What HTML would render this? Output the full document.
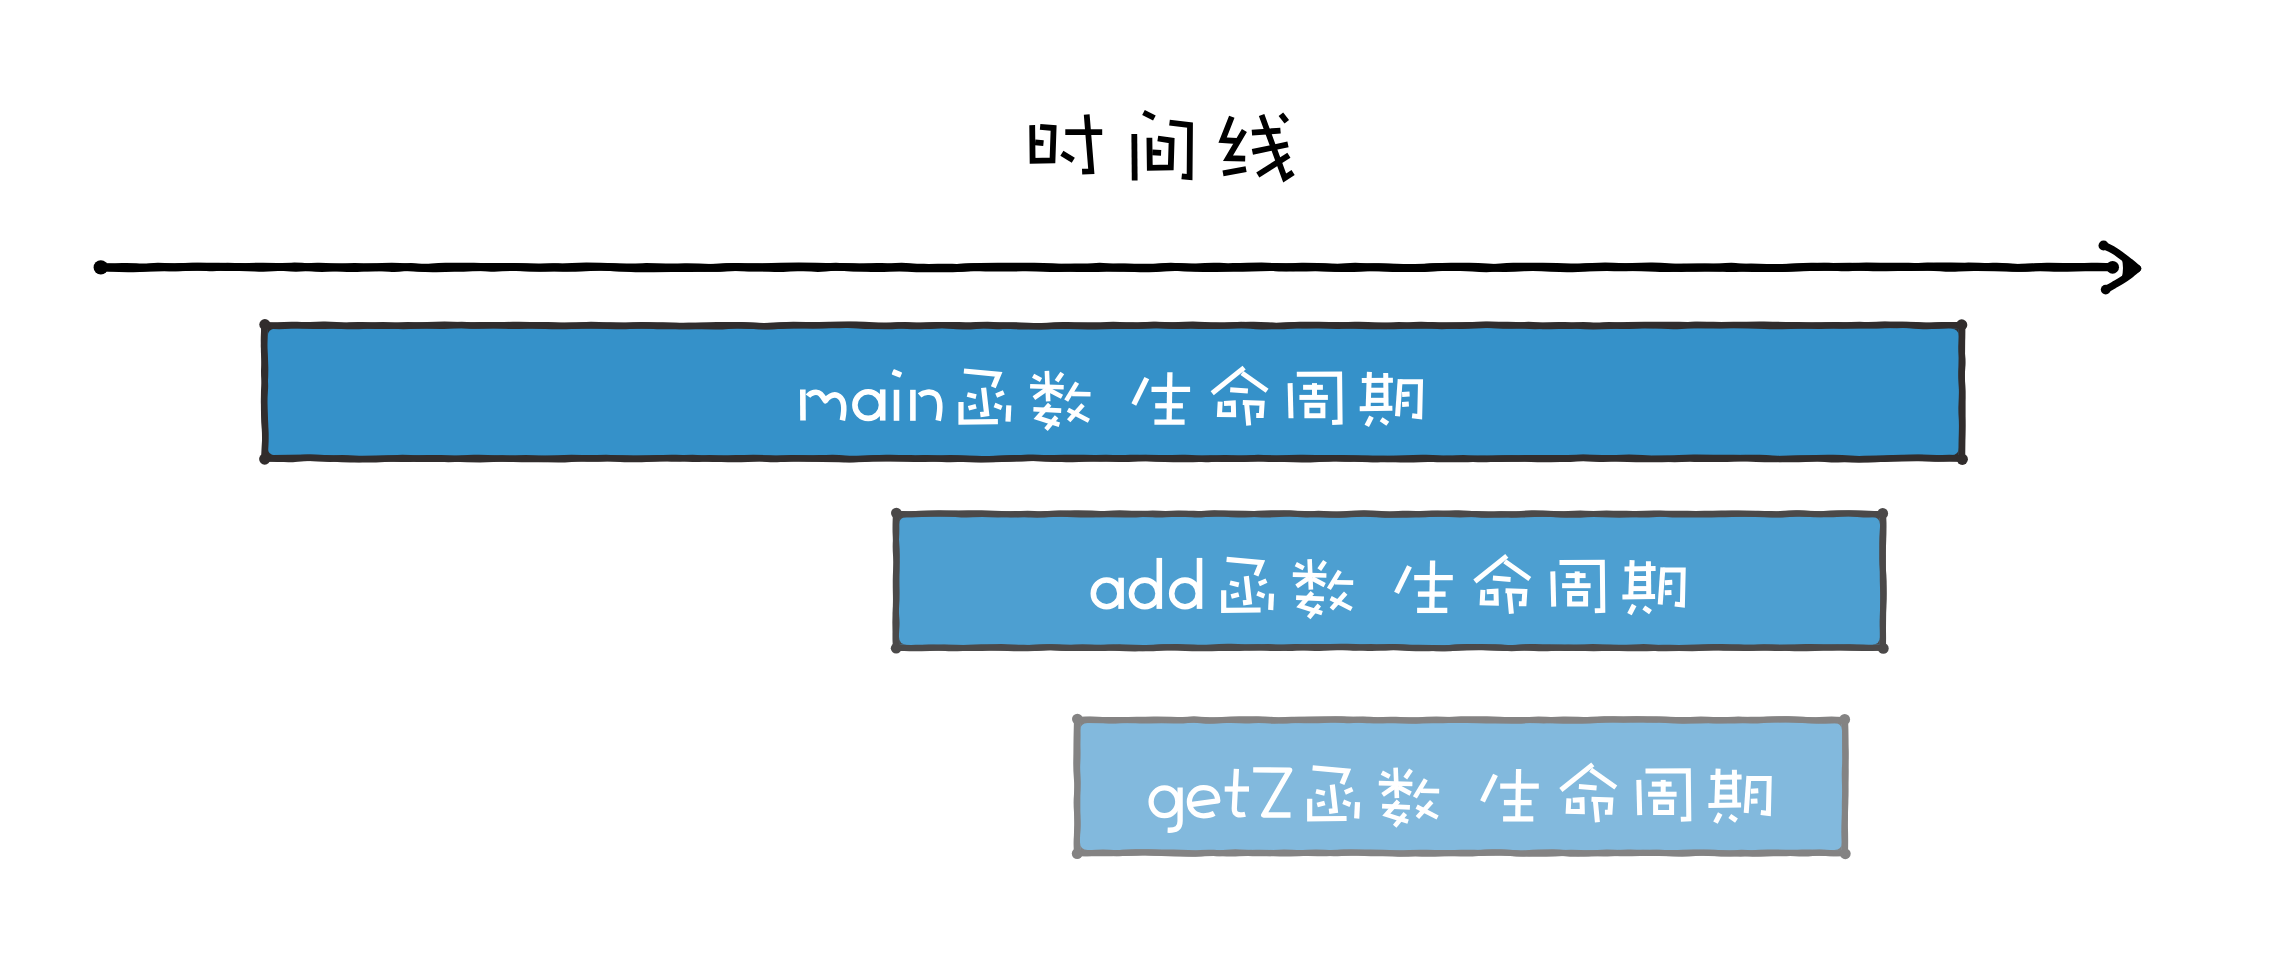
<!DOCTYPE html>
<html><head><meta charset="utf-8"><title>timeline</title>
<style>
html,body{margin:0;padding:0;background:#fff;font-family:"Liberation Sans",sans-serif;}
svg{display:block;filter:blur(0.45px)}
</style></head><body>
<svg width="2284" height="954" viewBox="0 0 2284 954">
<rect width="2284" height="954" fill="#fff"/>

<g fill="none" stroke="#000" stroke-width="5.8" stroke-linecap="butt" stroke-linejoin="miter" stroke-miterlimit="2">
<path d="M1032.2,125.1 L1032.6,160.9 L1052.5,160.4 L1053.6,128.0 L1040.1,126.8"/>
<path d="M1035.1,142.3 L1043.5,143.1"/>
<path d="M1065.3,132.2 L1102.2,132.2"/>
<path d="M1086.7,114.6 L1091.3,171.3 L1082.1,171.7"/>
<path d="M1061.9,153.2 L1073.3,160.3"/>
<path d="M1143.5,112.5 L1154.4,118.0"/>
<path d="M1134.3,133.9 L1134.7,180.5"/>
<path d="M1169.5,122.6 L1190.0,125.1 L1189.6,177.1 L1181.7,176.3"/>
<path d="M1149.4,137.7 L1149.8,167.9 L1170.8,167.5 L1171.6,140.6 L1157.8,138.5"/>
<path d="M1152.3,152.4 L1161.1,152.8"/>
<path d="M1231.8,116.7 L1222.6,140.2 L1236.8,141.0"/>
<path d="M1244.4,130.6 L1228.0,158.2 L1245.2,158.7"/>
<path d="M1223.0,173.3 L1246.1,169.1"/>
<path d="M1251.9,132.7 L1280.5,130.6"/>
<path d="M1252.4,151.9 L1288.0,144.4"/>
<path d="M1261.6,115.0 L1284.7,178.0 L1293.1,172.5"/>
<path d="M1288.9,155.3 L1257.8,175.0"/>
<path d="M1280.9,114.2 L1286.8,121.7"/>
</g>
<path d="M101.0,267.4 L108.0,267.2 Q115.1,267.0 122.1,266.9 Q129.1,266.7 136.2,267.2 Q143.2,267.7 150.2,267.1 Q157.3,266.5 164.3,267.0 Q171.3,267.5 178.4,267.3 Q185.4,267.1 192.4,266.8 Q199.5,266.5 206.5,267.0 Q213.5,267.4 220.6,266.9 Q227.6,266.5 234.6,266.9 Q241.7,267.3 248.7,266.9 Q255.7,266.5 262.8,266.6 Q269.8,266.6 276.8,266.9 Q283.9,267.2 290.9,267.6 Q297.9,268.0 305.0,267.3 Q312.0,266.6 319.0,266.7 Q326.1,266.8 333.1,267.2 Q340.1,267.6 347.2,268.0 Q354.2,268.3 361.2,267.9 Q368.3,267.5 375.3,267.4 Q382.3,267.2 389.4,267.8 Q396.4,268.3 403.4,267.4 Q410.5,266.5 417.5,267.3 Q424.5,268.1 431.6,267.5 Q438.6,267.0 445.6,266.8 Q452.7,266.7 459.7,266.6 Q466.7,266.6 473.8,266.8 Q480.8,267.0 487.8,267.5 Q494.9,268.0 501.9,267.4 Q508.9,266.7 516.0,267.1 Q523.0,267.5 530.0,267.6 Q537.1,267.7 544.1,267.4 Q551.1,267.1 558.2,267.3 Q565.2,267.5 572.2,267.0 Q579.3,266.5 586.3,266.5 Q593.3,266.5 600.4,266.6 Q607.4,266.8 614.4,267.3 Q621.5,267.7 628.5,267.5 Q635.5,267.2 642.6,267.1 Q649.6,267.0 656.6,267.3 Q663.7,267.5 670.7,267.4 Q677.7,267.3 684.8,267.1 Q691.8,267.0 698.8,267.5 Q705.9,268.0 712.9,267.9 Q719.9,267.8 727.0,267.3 Q734.0,266.9 741.0,267.2 Q748.1,267.5 755.1,267.5 Q762.1,267.4 769.2,267.8 Q776.2,268.1 783.2,268.0 Q790.3,267.8 797.3,267.4 Q804.3,266.9 811.4,267.6 Q818.4,268.3 825.4,267.5 Q832.5,266.6 839.5,266.9 Q846.5,267.2 853.6,267.5 Q860.6,267.9 867.6,267.3 Q874.7,266.7 881.7,267.0 Q888.7,267.3 895.8,266.9 Q902.8,266.4 909.8,267.1 Q916.9,267.7 923.9,267.8 Q930.9,267.9 938.0,267.7 Q945.0,267.5 952.0,267.8 Q959.1,268.1 966.1,267.5 Q973.1,267.0 980.2,267.4 Q987.2,267.7 994.2,267.6 Q1001.3,267.5 1008.3,267.5 Q1015.3,267.5 1022.4,267.4 Q1029.4,267.3 1036.4,267.6 Q1043.5,268.0 1050.5,268.1 Q1057.5,268.2 1064.6,267.8 Q1071.6,267.3 1078.6,267.5 Q1085.7,267.7 1092.7,267.1 Q1099.7,266.5 1106.7,267.1 Q1113.8,267.8 1120.8,267.7 Q1127.8,267.6 1134.9,268.0 Q1141.9,268.3 1148.9,268.2 Q1156.0,268.0 1163.0,267.5 Q1170.0,266.9 1177.1,267.0 Q1184.1,267.1 1191.1,267.4 Q1198.2,267.7 1205.2,267.0 Q1212.2,266.4 1219.3,266.8 Q1226.3,267.3 1233.3,267.0 Q1240.4,266.7 1247.4,266.6 Q1254.4,266.6 1261.5,266.5 Q1268.5,266.5 1275.5,267.2 Q1282.6,267.9 1289.6,267.2 Q1296.6,266.6 1303.7,266.7 Q1310.7,266.8 1317.7,267.0 Q1324.8,267.1 1331.8,267.6 Q1338.8,268.1 1345.9,267.3 Q1352.9,266.5 1359.9,266.9 Q1367.0,267.2 1374.0,267.3 Q1381.0,267.4 1388.1,267.8 Q1395.1,268.1 1402.1,268.0 Q1409.2,268.0 1416.2,268.0 Q1423.2,268.1 1430.3,267.5 Q1437.3,266.9 1444.3,267.0 Q1451.4,267.2 1458.4,267.1 Q1465.4,267.0 1472.5,267.6 Q1479.5,268.1 1486.5,268.2 Q1493.6,268.2 1500.6,267.4 Q1507.6,266.6 1514.7,266.7 Q1521.7,266.7 1528.7,266.7 Q1535.8,266.8 1542.8,266.8 Q1549.8,266.8 1556.9,267.0 Q1563.9,267.3 1570.9,267.4 Q1578.0,267.5 1585.0,267.2 Q1592.0,266.9 1599.1,266.6 Q1606.1,266.3 1613.1,266.7 Q1620.2,267.2 1627.2,267.1 Q1634.2,267.1 1641.3,267.3 Q1648.3,267.5 1655.3,267.8 Q1662.4,268.2 1669.4,268.0 Q1676.4,267.7 1683.5,267.5 Q1690.5,267.4 1697.5,267.5 Q1704.6,267.6 1711.6,267.6 Q1718.6,267.7 1725.7,267.0 Q1732.7,266.4 1739.7,267.3 Q1746.8,268.1 1753.8,268.0 Q1760.8,267.9 1767.9,268.0 Q1774.9,268.1 1781.9,268.0 Q1789.0,267.9 1796.0,267.5 Q1803.0,267.1 1810.1,267.1 Q1817.1,267.1 1824.1,266.8 Q1831.2,266.5 1838.2,267.1 Q1845.2,267.6 1852.3,267.0 Q1859.3,266.4 1866.3,266.4 Q1873.4,266.4 1880.4,266.6 Q1887.4,266.7 1894.5,266.7 Q1901.5,266.6 1908.5,266.8 Q1915.6,267.0 1922.6,266.7 Q1929.6,266.4 1936.7,266.4 Q1943.7,266.3 1950.7,266.5 Q1957.8,266.6 1964.8,266.6 Q1971.8,266.5 1978.9,266.8 Q1985.9,267.0 1992.9,266.7 Q2000.0,266.4 2007.0,267.2 Q2014.0,268.1 2021.1,267.8 Q2028.1,267.5 2035.1,267.1 Q2042.2,266.6 2049.2,266.7 Q2056.2,266.8 2063.3,266.9 Q2070.3,267.0 2077.3,267.0 Q2084.4,267.0 2091.4,266.8 Q2098.4,266.5 2105.5,266.9 L2112.5,267.3" fill="none" stroke="#000" stroke-width="7.9" stroke-linecap="round"/>
<path d="M101.0,267.4 L110.1,267.7 Q119.1,268.1 128.2,268.2 Q137.2,268.4 146.3,267.9 Q155.4,267.3 164.4,267.3 Q173.5,267.4 182.5,267.0 Q191.6,266.6 200.7,266.6 Q209.7,266.6 218.8,266.8 Q227.9,267.1 236.9,267.0 Q246.0,266.9 255.0,267.5 Q264.1,268.0 273.2,267.4 Q282.2,266.7 291.3,266.6 Q300.3,266.4 309.4,267.4 Q318.5,268.3 327.5,267.9 Q336.6,267.4 345.6,267.1 Q354.7,266.7 363.8,267.1 Q372.8,267.5 381.9,267.0 Q390.9,266.4 400.0,266.9 Q409.1,267.4 418.1,267.9 Q427.2,268.3 436.3,268.2 Q445.3,268.1 454.4,267.9 Q463.4,267.8 472.5,267.3 Q481.6,266.9 490.6,267.0 Q499.7,267.1 508.7,266.9 Q517.8,266.7 526.9,267.3 Q535.9,267.9 545.0,267.7 Q554.0,267.4 563.1,267.7 Q572.2,267.9 581.2,267.5 Q590.3,267.0 599.3,266.9 Q608.4,266.8 617.5,267.4 Q626.5,268.0 635.6,268.2 Q644.6,268.3 653.7,268.2 Q662.8,268.1 671.8,268.0 Q680.9,268.0 690.0,268.0 Q699.0,268.0 708.1,267.9 Q717.1,267.8 726.2,267.3 Q735.3,266.8 744.3,267.1 Q753.4,267.4 762.4,267.2 Q771.5,267.1 780.6,266.8 Q789.6,266.4 798.7,266.4 Q807.7,266.4 816.8,266.7 Q825.9,266.9 834.9,266.9 Q844.0,266.9 853.0,267.3 Q862.1,267.7 871.2,268.0 Q880.2,268.3 889.3,267.8 Q898.4,267.3 907.4,267.7 Q916.5,268.2 925.5,268.3 Q934.6,268.3 943.7,268.3 Q952.7,268.3 961.8,267.7 Q970.8,267.1 979.9,266.9 Q989.0,266.8 998.0,266.8 Q1007.1,266.8 1016.1,266.8 Q1025.2,266.7 1034.3,266.8 Q1043.3,266.8 1052.4,267.2 Q1061.4,267.6 1070.5,267.9 Q1079.6,268.2 1088.6,268.1 Q1097.7,268.0 1106.8,267.7 Q1115.8,267.3 1124.9,267.5 Q1133.9,267.7 1143.0,267.8 Q1152.1,267.9 1161.1,267.2 Q1170.2,266.5 1179.2,267.1 Q1188.3,267.7 1197.4,267.9 Q1206.4,268.2 1215.5,268.0 Q1224.5,267.9 1233.6,267.9 Q1242.7,267.8 1251.7,267.6 Q1260.8,267.3 1269.8,267.0 Q1278.9,266.7 1288.0,267.3 Q1297.0,267.9 1306.1,267.5 Q1315.1,267.0 1324.2,267.5 Q1333.3,267.9 1342.3,268.1 Q1351.4,268.3 1360.5,267.7 Q1369.5,267.1 1378.6,267.1 Q1387.6,267.1 1396.7,267.7 Q1405.8,268.2 1414.8,268.0 Q1423.9,267.8 1432.9,267.2 Q1442.0,266.7 1451.1,266.6 Q1460.1,266.6 1469.2,266.6 Q1478.2,266.6 1487.3,267.4 Q1496.4,268.1 1505.4,268.0 Q1514.5,267.9 1523.5,267.3 Q1532.6,266.6 1541.7,267.3 Q1550.7,268.0 1559.8,268.1 Q1568.9,268.3 1577.9,268.0 Q1587.0,267.6 1596.0,267.3 Q1605.1,267.0 1614.2,267.2 Q1623.2,267.4 1632.3,267.0 Q1641.3,266.6 1650.4,266.5 Q1659.5,266.4 1668.5,267.3 Q1677.6,268.3 1686.6,267.9 Q1695.7,267.6 1704.8,267.5 Q1713.8,267.4 1722.9,267.8 Q1731.9,268.2 1741.0,267.7 Q1750.1,267.2 1759.1,267.6 Q1768.2,268.1 1777.3,268.0 Q1786.3,268.0 1795.4,267.4 Q1804.4,266.7 1813.5,266.8 Q1822.6,266.8 1831.6,266.9 Q1840.7,266.9 1849.7,266.8 Q1858.8,266.8 1867.9,267.1 Q1876.9,267.5 1886.0,267.2 Q1895.0,266.8 1904.1,267.0 Q1913.2,267.1 1922.2,266.9 Q1931.3,266.6 1940.3,267.3 Q1949.4,268.1 1958.5,267.6 Q1967.5,267.0 1976.6,267.1 Q1985.6,267.2 1994.7,267.3 Q2003.8,267.5 2012.8,267.8 Q2021.9,268.1 2031.0,267.6 Q2040.0,267.1 2049.1,267.6 Q2058.1,268.1 2067.2,267.7 Q2076.3,267.3 2085.3,267.3 Q2094.4,267.4 2103.4,267.3 L2112.5,267.3" fill="none" stroke="#000" stroke-width="7.9" stroke-linecap="round"/>
<circle cx="100.8" cy="267.4" r="7.2" fill="#000"/>
<circle cx="2112.6" cy="267.3" r="6.4" fill="#000"/>
<path d="M2103.6,245.5 C2105.3,246.3 2110.6,248.6 2113.7,250.4 C2116.8,252.2 2119.4,254.3 2122.1,256.2 C2124.8,258.1 2127.0,259.9 2129.6,262.0 C2132.2,264.1 2136.1,267.4 2137.4,268.5" fill="none" stroke="#000" stroke-width="7.4" stroke-linecap="round" stroke-linejoin="round"/>
<path d="M2137.4,268.5 C2136.1,269.6 2132.2,273.0 2129.6,274.9 C2127.0,276.8 2124.8,278.4 2122.1,280.1 C2119.4,281.8 2116.4,283.5 2113.7,285.1 C2111.0,286.7 2107.0,288.9 2105.7,289.6" fill="none" stroke="#000" stroke-width="7.4" stroke-linecap="round" stroke-linejoin="round"/>
<path d="M2121.6,258 Q2124.4,268.2 2121.6,278.6 L2139.8,268.5 Z" fill="#000"/>
<circle cx="2103.6" cy="245.5" r="5.1" fill="#000"/><circle cx="2105.7" cy="289.6" r="4.9" fill="#000"/>
<rect x="264.5" y="325.5" width="1697.5" height="133.0" fill="#3591c9"/>
<path d="M264.5,325.5 L271.0,325.5 Q277.6,325.5 284.1,325.1 Q290.6,324.7 297.1,325.0 Q303.7,325.4 310.2,325.2 Q316.7,325.0 323.3,324.8 Q329.8,324.7 336.3,325.3 Q342.8,326.0 349.4,325.5 Q355.9,324.9 362.4,325.2 Q369.0,325.5 375.5,325.7 Q382.0,325.9 388.5,325.7 Q395.1,325.6 401.6,325.4 Q408.1,325.2 414.7,325.4 Q421.2,325.5 427.7,325.6 Q434.2,325.6 440.8,325.8 Q447.3,326.0 453.8,325.4 Q460.4,324.8 466.9,325.2 Q473.4,325.6 480.0,325.3 Q486.5,325.1 493.0,325.1 Q499.5,325.1 506.1,325.5 Q512.6,326.0 519.1,325.7 Q525.7,325.5 532.2,325.6 Q538.7,325.6 545.2,325.8 Q551.8,325.9 558.3,326.1 Q564.8,326.2 571.4,325.8 Q577.9,325.4 584.4,325.5 Q590.9,325.7 597.5,325.6 Q604.0,325.5 610.5,325.5 Q617.1,325.5 623.6,325.7 Q630.1,325.8 636.6,325.6 Q643.2,325.4 649.7,325.5 Q656.2,325.6 662.8,325.5 Q669.3,325.5 675.8,325.9 Q682.3,326.3 688.9,326.0 Q695.4,325.8 701.9,326.0 Q708.5,326.1 715.0,326.2 Q721.5,326.3 728.0,325.7 Q734.6,325.1 741.1,325.3 Q747.6,325.6 754.2,325.9 Q760.7,326.3 767.2,326.2 Q773.8,326.1 780.3,325.5 Q786.8,324.9 793.3,324.9 Q799.9,324.9 806.4,325.1 Q812.9,325.4 819.5,325.1 Q826.0,324.8 832.5,324.9 Q839.0,325.1 845.6,324.9 Q852.1,324.8 858.6,325.3 Q865.2,325.8 871.7,325.9 Q878.2,326.0 884.7,326.1 Q891.3,326.2 897.8,325.5 Q904.3,324.9 910.9,325.4 Q917.4,325.9 923.9,325.8 Q930.4,325.8 937.0,325.3 Q943.5,324.9 950.0,325.5 Q956.6,326.2 963.1,326.2 Q969.6,326.3 976.1,325.7 Q982.7,325.0 989.2,325.6 Q995.7,326.3 1002.3,325.8 Q1008.8,325.3 1015.3,325.4 Q1021.8,325.5 1028.4,325.9 Q1034.9,326.3 1041.4,326.2 Q1048.0,326.1 1054.5,325.5 Q1061.0,324.9 1067.5,325.2 Q1074.1,325.4 1080.6,325.5 Q1087.1,325.5 1093.7,325.4 Q1100.2,325.2 1106.7,325.1 Q1113.2,325.0 1119.8,325.1 Q1126.3,325.2 1132.8,325.5 Q1139.4,325.9 1145.9,325.3 Q1152.4,324.7 1159.0,325.1 Q1165.5,325.6 1172.0,325.5 Q1178.5,325.4 1185.1,325.0 Q1191.6,324.7 1198.1,324.9 Q1204.7,325.2 1211.2,325.5 Q1217.7,325.7 1224.2,325.6 Q1230.8,325.5 1237.3,325.1 Q1243.8,324.8 1250.4,325.5 Q1256.9,326.3 1263.4,326.2 Q1269.9,326.0 1276.5,326.1 Q1283.0,326.3 1289.5,325.6 Q1296.1,324.8 1302.6,325.0 Q1309.1,325.1 1315.6,324.9 Q1322.2,324.7 1328.7,325.3 Q1335.2,326.0 1341.8,325.5 Q1348.3,325.1 1354.8,325.0 Q1361.3,324.9 1367.9,325.1 Q1374.4,325.4 1380.9,325.8 Q1387.5,326.2 1394.0,326.1 Q1400.5,326.0 1407.0,325.6 Q1413.6,325.1 1420.1,325.0 Q1426.6,324.9 1433.2,325.6 Q1439.7,326.2 1446.2,325.9 Q1452.8,325.6 1459.3,325.7 Q1465.8,325.8 1472.3,325.3 Q1478.9,324.8 1485.4,324.8 Q1491.9,324.7 1498.5,325.3 Q1505.0,325.8 1511.5,325.6 Q1518.0,325.4 1524.6,325.1 Q1531.1,324.8 1537.6,325.5 Q1544.2,326.2 1550.7,326.0 Q1557.2,325.7 1563.7,325.9 Q1570.3,326.0 1576.8,325.4 Q1583.3,324.8 1589.9,325.4 Q1596.4,326.1 1602.9,325.4 Q1609.4,324.8 1616.0,325.4 Q1622.5,326.1 1629.0,325.8 Q1635.6,325.4 1642.1,325.3 Q1648.6,325.2 1655.1,325.4 Q1661.7,325.6 1668.2,325.9 Q1674.7,326.2 1681.3,325.7 Q1687.8,325.1 1694.3,325.0 Q1700.8,324.9 1707.4,325.2 Q1713.9,325.5 1720.4,325.3 Q1727.0,325.1 1733.5,324.9 Q1740.0,324.8 1746.5,324.9 Q1753.1,324.9 1759.6,324.8 Q1766.1,324.7 1772.7,324.9 Q1779.2,325.0 1785.7,325.1 Q1792.2,325.2 1798.8,325.2 Q1805.3,325.2 1811.8,325.6 Q1818.4,325.9 1824.9,325.5 Q1831.4,325.1 1838.0,325.3 Q1844.5,325.5 1851.0,325.2 Q1857.5,325.0 1864.1,325.1 Q1870.6,325.2 1877.1,325.0 Q1883.7,324.7 1890.2,324.9 Q1896.7,325.1 1903.2,324.9 Q1909.8,324.7 1916.3,325.3 Q1922.8,325.9 1929.4,325.7 Q1935.9,325.6 1942.4,325.3 Q1948.9,325.0 1955.5,325.2 L1962.0,325.5 M1962.0,325.5 L1962.0,331.5 Q1962.0,337.6 1961.7,343.6 Q1961.3,349.7 1962.0,355.7 Q1962.7,361.8 1962.1,367.8 Q1961.5,373.9 1961.8,379.9 Q1962.1,386.0 1962.1,392.0 Q1962.0,398.0 1961.7,404.1 Q1961.4,410.1 1961.8,416.2 Q1962.2,422.2 1962.1,428.3 Q1962.0,434.3 1961.8,440.4 Q1961.7,446.4 1961.8,452.5 L1962.0,458.5 M1962.0,458.5 L1955.5,458.1 Q1948.9,457.7 1942.4,458.2 Q1935.9,458.8 1929.4,458.4 Q1922.8,457.9 1916.3,458.0 Q1909.8,458.1 1903.2,458.2 Q1896.7,458.3 1890.2,458.5 Q1883.7,458.7 1877.1,458.7 Q1870.6,458.8 1864.1,459.0 Q1857.5,459.3 1851.0,459.2 Q1844.5,459.1 1838.0,459.2 Q1831.4,459.2 1824.9,458.7 Q1818.4,458.1 1811.8,458.5 Q1805.3,458.9 1798.8,459.0 Q1792.2,459.1 1785.7,459.1 Q1779.2,459.2 1772.7,458.6 Q1766.1,457.9 1759.6,457.9 Q1753.1,457.9 1746.5,458.0 Q1740.0,458.2 1733.5,458.5 Q1727.0,458.9 1720.4,458.9 Q1713.9,458.9 1707.4,458.9 Q1700.8,458.9 1694.3,458.7 Q1687.8,458.6 1681.3,458.8 Q1674.7,459.1 1668.2,458.8 Q1661.7,458.6 1655.1,458.7 Q1648.6,458.9 1642.1,458.3 Q1635.6,457.7 1629.0,457.7 Q1622.5,457.7 1616.0,458.1 Q1609.4,458.4 1602.9,458.7 Q1596.4,458.9 1589.9,458.3 Q1583.3,457.7 1576.8,458.3 Q1570.3,458.8 1563.7,458.8 Q1557.2,458.7 1550.7,459.0 Q1544.2,459.3 1537.6,459.0 Q1531.1,458.7 1524.6,458.6 Q1518.0,458.5 1511.5,458.5 Q1505.0,458.5 1498.5,458.8 Q1491.9,459.0 1485.4,458.8 Q1478.9,458.5 1472.3,458.9 Q1465.8,459.3 1459.3,459.1 Q1452.8,458.9 1446.2,459.0 Q1439.7,459.2 1433.2,458.9 Q1426.6,458.7 1420.1,459.0 Q1413.6,459.3 1407.0,459.3 Q1400.5,459.3 1394.0,459.1 Q1387.5,458.8 1380.9,458.9 Q1374.4,459.0 1367.9,458.7 Q1361.3,458.4 1354.8,458.4 Q1348.3,458.5 1341.8,458.3 Q1335.2,458.1 1328.7,458.2 Q1322.2,458.2 1315.6,458.2 Q1309.1,458.1 1302.6,458.0 Q1296.1,457.9 1289.5,458.3 Q1283.0,458.7 1276.5,458.7 Q1269.9,458.8 1263.4,458.2 Q1256.9,457.7 1250.4,458.4 Q1243.8,459.1 1237.3,458.6 Q1230.8,458.1 1224.2,458.2 Q1217.7,458.3 1211.2,458.8 Q1204.7,459.3 1198.1,458.6 Q1191.6,457.9 1185.1,457.9 Q1178.5,457.8 1172.0,458.1 Q1165.5,458.3 1159.0,458.2 Q1152.4,458.1 1145.9,458.0 Q1139.4,458.0 1132.8,458.5 Q1126.3,459.1 1119.8,458.8 Q1113.2,458.5 1106.7,458.5 Q1100.2,458.5 1093.7,458.2 Q1087.1,457.9 1080.6,458.0 Q1074.1,458.0 1067.5,458.0 Q1061.0,457.9 1054.5,458.2 Q1048.0,458.4 1041.4,458.1 Q1034.9,457.8 1028.4,458.0 Q1021.8,458.2 1015.3,458.2 Q1008.8,458.2 1002.3,458.6 Q995.7,459.0 989.2,459.1 Q982.7,459.3 976.1,459.2 Q969.6,459.1 963.1,458.9 Q956.6,458.7 950.0,459.0 Q943.5,459.2 937.0,458.6 Q930.4,457.9 923.9,458.2 Q917.4,458.4 910.9,458.3 Q904.3,458.3 897.8,458.3 Q891.3,458.3 884.7,458.2 Q878.2,458.2 871.7,458.4 Q865.2,458.5 858.6,458.9 Q852.1,459.3 845.6,458.7 Q839.0,458.0 832.5,458.0 Q826.0,458.1 819.5,458.3 Q812.9,458.5 806.4,458.5 Q799.9,458.4 793.3,458.3 Q786.8,458.2 780.3,458.7 Q773.8,459.2 767.2,458.7 Q760.7,458.1 754.2,458.5 Q747.6,458.9 741.1,459.1 Q734.6,459.2 728.0,459.1 Q721.5,458.9 715.0,458.5 Q708.5,458.1 701.9,458.6 Q695.4,459.0 688.9,458.5 Q682.3,458.1 675.8,457.9 Q669.3,457.7 662.8,458.1 Q656.2,458.5 649.7,458.6 Q643.2,458.7 636.6,458.6 Q630.1,458.5 623.6,458.4 Q617.1,458.2 610.5,458.1 Q604.0,458.0 597.5,458.2 Q590.9,458.3 584.4,458.3 Q577.9,458.3 571.4,458.7 Q564.8,459.2 558.3,459.2 Q551.8,459.1 545.2,459.0 Q538.7,458.9 532.2,458.5 Q525.7,458.1 519.1,458.5 Q512.6,458.8 506.1,458.6 Q499.5,458.4 493.0,458.9 Q486.5,459.3 480.0,459.3 Q473.4,459.2 466.9,459.1 Q460.4,458.9 453.8,458.6 Q447.3,458.2 440.8,458.2 Q434.2,458.2 427.7,458.2 Q421.2,458.2 414.7,458.5 Q408.1,458.9 401.6,458.7 Q395.1,458.5 388.5,458.5 Q382.0,458.6 375.5,458.6 Q369.0,458.6 362.4,458.9 Q355.9,459.1 349.4,458.5 Q342.8,457.8 336.3,458.4 Q329.8,459.0 323.3,458.3 Q316.7,457.7 310.2,457.7 Q303.7,457.8 297.1,458.5 Q290.6,459.3 284.1,458.9 Q277.6,458.6 271.0,458.5 L264.5,458.5 M264.5,458.5 L264.8,452.5 Q265.0,446.4 265.2,440.4 Q265.3,434.3 264.9,428.3 Q264.4,422.2 264.3,416.2 Q264.1,410.1 264.1,404.1 Q264.0,398.0 264.6,392.0 Q265.3,386.0 264.6,379.9 Q264.0,373.9 264.3,367.8 Q264.6,361.8 264.3,355.7 Q263.9,349.7 264.2,343.6 Q264.5,337.6 264.5,331.5 L264.5,325.5" fill="none" stroke="#312d2d" stroke-width="6.4" stroke-linecap="round" stroke-linejoin="round"/>
<path d="M264.5,325.5 L273.1,325.9 Q281.6,326.3 290.2,325.6 Q298.8,324.9 307.4,325.5 Q315.9,326.0 324.5,325.8 Q333.1,325.5 341.7,325.8 Q350.2,326.2 358.8,326.0 Q367.4,325.8 376.0,325.4 Q384.5,325.0 393.1,325.6 Q401.7,326.2 410.2,325.8 Q418.8,325.5 427.4,325.1 Q436.0,324.7 444.5,324.7 Q453.1,324.7 461.7,325.1 Q470.3,325.5 478.8,325.5 Q487.4,325.4 496.0,325.3 Q504.6,325.2 513.1,325.0 Q521.7,324.9 530.3,325.1 Q538.8,325.2 547.4,325.2 Q556.0,325.2 564.6,325.6 Q573.1,326.1 581.7,325.4 Q590.3,324.7 598.9,325.3 Q607.4,325.9 616.0,326.0 Q624.6,326.1 633.1,325.5 Q641.7,324.9 650.3,325.5 Q658.9,326.2 667.4,326.0 Q676.0,325.9 684.6,326.0 Q693.2,326.2 701.7,325.7 Q710.3,325.1 718.9,325.2 Q727.5,325.3 736.0,325.3 Q744.6,325.3 753.2,325.8 Q761.7,326.3 770.3,326.0 Q778.9,325.7 787.5,325.5 Q796.0,325.3 804.6,325.3 Q813.2,325.4 821.8,325.2 Q830.3,325.1 838.9,324.9 Q847.5,324.7 856.1,324.8 Q864.6,324.8 873.2,325.4 Q881.8,326.1 890.3,325.6 Q898.9,325.1 907.5,325.7 Q916.1,326.2 924.6,325.7 Q933.2,325.1 941.8,325.1 Q950.4,325.1 958.9,325.3 Q967.5,325.5 976.1,325.2 Q984.7,325.0 993.2,325.1 Q1001.8,325.3 1010.4,325.8 Q1018.9,326.3 1027.5,326.2 Q1036.1,326.2 1044.7,326.1 Q1053.2,326.0 1061.8,325.9 Q1070.4,325.7 1079.0,326.0 Q1087.5,326.2 1096.1,326.2 Q1104.7,326.2 1113.2,325.9 Q1121.8,325.6 1130.4,325.7 Q1139.0,325.9 1147.5,325.3 Q1156.1,324.7 1164.7,325.3 Q1173.3,325.9 1181.8,325.7 Q1190.4,325.4 1199.0,325.7 Q1207.6,325.9 1216.1,325.8 Q1224.7,325.7 1233.3,325.4 Q1241.8,325.1 1250.4,324.9 Q1259.0,324.7 1267.6,325.5 Q1276.1,326.2 1284.7,325.5 Q1293.3,324.9 1301.9,325.2 Q1310.4,325.5 1319.0,325.3 Q1327.6,325.2 1336.2,325.2 Q1344.7,325.2 1353.3,325.5 Q1361.9,325.9 1370.4,326.1 Q1379.0,326.3 1387.6,325.7 Q1396.2,325.1 1404.7,325.4 Q1413.3,325.8 1421.9,325.5 Q1430.5,325.2 1439.0,325.4 Q1447.6,325.6 1456.2,325.5 Q1464.8,325.3 1473.3,325.1 Q1481.9,324.9 1490.5,324.9 Q1499.0,324.9 1507.6,325.0 Q1516.2,325.0 1524.8,325.6 Q1533.3,326.2 1541.9,325.8 Q1550.5,325.5 1559.1,325.3 Q1567.6,325.0 1576.2,325.6 Q1584.8,326.2 1593.4,326.3 Q1601.9,326.3 1610.5,325.9 Q1619.1,325.4 1627.6,325.2 Q1636.2,324.9 1644.8,324.9 Q1653.4,325.0 1661.9,324.9 Q1670.5,324.8 1679.1,325.0 Q1687.7,325.2 1696.2,325.0 Q1704.8,324.8 1713.4,324.9 Q1721.9,325.1 1730.5,325.1 Q1739.1,325.1 1747.7,325.4 Q1756.2,325.6 1764.8,325.9 Q1773.4,326.2 1782.0,326.0 Q1790.5,325.9 1799.1,325.6 Q1807.7,325.4 1816.3,325.4 Q1824.8,325.4 1833.4,325.4 Q1842.0,325.5 1850.5,325.4 Q1859.1,325.3 1867.7,325.3 Q1876.3,325.2 1884.8,325.0 Q1893.4,324.8 1902.0,324.9 Q1910.6,325.1 1919.1,325.7 Q1927.7,326.3 1936.3,325.6 Q1944.9,324.9 1953.4,325.2 L1962.0,325.5 M1962.0,325.5 L1962.0,333.8 Q1962.0,342.1 1961.9,350.4 Q1961.8,358.8 1961.6,367.1 Q1961.4,375.4 1961.9,383.7 Q1962.5,392.0 1962.4,400.3 Q1962.4,408.6 1962.4,416.9 Q1962.4,425.2 1962.3,433.6 Q1962.2,441.9 1962.1,450.2 L1962.0,458.5 M1962.0,458.5 L1953.4,458.5 Q1944.9,458.6 1936.3,458.2 Q1927.7,457.7 1919.1,457.8 Q1910.6,457.9 1902.0,457.9 Q1893.4,457.9 1884.8,458.6 Q1876.3,459.3 1867.7,459.3 Q1859.1,459.3 1850.5,458.7 Q1842.0,458.1 1833.4,458.0 Q1824.8,457.8 1816.3,458.2 Q1807.7,458.5 1799.1,458.4 Q1790.5,458.4 1782.0,458.9 Q1773.4,459.3 1764.8,459.0 Q1756.2,458.7 1747.7,458.2 Q1739.1,457.8 1730.5,457.9 Q1721.9,457.9 1713.4,457.9 Q1704.8,457.9 1696.2,457.8 Q1687.7,457.7 1679.1,458.3 Q1670.5,458.9 1661.9,459.0 Q1653.4,459.2 1644.8,459.1 Q1636.2,459.1 1627.6,458.8 Q1619.1,458.5 1610.5,458.3 Q1601.9,458.2 1593.4,458.0 Q1584.8,457.7 1576.2,457.9 Q1567.6,458.1 1559.1,458.2 Q1550.5,458.2 1541.9,458.1 Q1533.3,458.0 1524.8,458.3 Q1516.2,458.6 1507.6,458.5 Q1499.0,458.4 1490.5,458.8 Q1481.9,459.3 1473.3,458.7 Q1464.8,458.0 1456.2,458.5 Q1447.6,459.0 1439.0,458.4 Q1430.5,457.8 1421.9,458.0 Q1413.3,458.3 1404.7,458.5 Q1396.2,458.8 1387.6,459.0 Q1379.0,459.1 1370.4,459.0 Q1361.9,458.9 1353.3,458.6 Q1344.7,458.3 1336.2,458.2 Q1327.6,458.2 1319.0,458.7 Q1310.4,459.2 1301.9,459.2 Q1293.3,459.2 1284.7,458.8 Q1276.1,458.5 1267.6,458.4 Q1259.0,458.4 1250.4,458.5 Q1241.8,458.7 1233.3,458.8 Q1224.7,459.0 1216.1,458.6 Q1207.6,458.3 1199.0,458.8 Q1190.4,459.3 1181.8,459.1 Q1173.3,458.8 1164.7,458.7 Q1156.1,458.6 1147.5,458.1 Q1139.0,457.7 1130.4,458.0 Q1121.8,458.3 1113.2,458.1 Q1104.7,457.8 1096.1,458.2 Q1087.5,458.5 1079.0,458.7 Q1070.4,459.0 1061.8,458.9 Q1053.2,458.9 1044.7,458.3 Q1036.1,457.7 1027.5,457.9 Q1018.9,458.2 1010.4,458.5 Q1001.8,458.8 993.2,459.1 Q984.7,459.3 976.1,458.9 Q967.5,458.5 958.9,458.4 Q950.4,458.2 941.8,458.4 Q933.2,458.6 924.6,458.8 Q916.1,458.9 907.5,458.6 Q898.9,458.2 890.3,458.0 Q881.8,457.8 873.2,458.4 Q864.6,459.0 856.1,459.1 Q847.5,459.3 838.9,459.0 Q830.3,458.8 821.8,458.7 Q813.2,458.6 804.6,458.4 Q796.0,458.2 787.5,458.6 Q778.9,459.0 770.3,458.5 Q761.7,458.0 753.2,458.0 Q744.6,458.1 736.0,458.3 Q727.5,458.5 718.9,458.7 Q710.3,459.0 701.7,458.4 Q693.2,457.7 684.6,458.3 Q676.0,458.8 667.4,458.4 Q658.9,458.0 650.3,458.5 Q641.7,459.0 633.1,459.0 Q624.6,459.0 616.0,458.5 Q607.4,458.1 598.9,458.5 Q590.3,458.8 581.7,458.3 Q573.1,457.7 564.6,458.1 Q556.0,458.5 547.4,458.8 Q538.8,459.0 530.3,459.0 Q521.7,459.0 513.1,458.8 Q504.6,458.6 496.0,458.4 Q487.4,458.2 478.8,458.0 Q470.3,457.7 461.7,458.4 Q453.1,459.1 444.5,458.9 Q436.0,458.7 427.4,458.8 Q418.8,459.0 410.2,458.3 Q401.7,457.7 393.1,458.4 Q384.5,459.1 376.0,459.2 Q367.4,459.3 358.8,459.3 Q350.2,459.2 341.7,459.0 Q333.1,458.7 324.5,458.3 Q315.9,457.8 307.4,457.8 Q298.8,457.8 290.2,458.0 Q281.6,458.1 273.1,458.3 L264.5,458.5 M264.5,458.5 L264.9,450.2 Q265.3,441.9 265.3,433.6 Q265.2,425.2 264.7,416.9 Q264.2,408.6 264.1,400.3 Q264.0,392.0 264.6,383.7 Q265.2,375.4 265.1,367.1 Q264.9,358.8 264.3,350.4 Q263.7,342.1 264.1,333.8 L264.5,325.5" fill="none" stroke="#312d2d" stroke-width="6.4" stroke-linecap="round" stroke-linejoin="round"/>
<path d="M267.8,328.8 L275.3,328.8 Q267.8,328.8 267.8,336.3 Z" fill="#312d2d"/>
<path d="M1958.7,328.8 L1951.2,328.8 Q1958.7,328.8 1958.7,336.3 Z" fill="#312d2d"/>
<path d="M1958.7,455.2 L1951.2,455.2 Q1958.7,455.2 1958.7,447.7 Z" fill="#312d2d"/>
<path d="M267.8,455.2 L275.3,455.2 Q267.8,455.2 267.8,447.7 Z" fill="#312d2d"/>
<circle cx="264.9" cy="324.6" r="5.6" fill="#312d2d"/>
<circle cx="1961.7" cy="324.9" r="5.6" fill="#312d2d"/>
<circle cx="1962.3" cy="459.3" r="5.6" fill="#312d2d"/>
<circle cx="264.7" cy="459.1" r="5.6" fill="#312d2d"/>

<rect x="896.0" y="514.0" width="987.0" height="133.6" fill="#4d9fd1"/>
<path d="M896.0,514.0 L902.6,514.1 Q909.2,514.3 915.7,514.0 Q922.3,513.8 928.9,513.8 Q935.5,513.8 942.1,513.7 Q948.6,513.7 955.2,513.6 Q961.8,513.4 968.4,513.3 Q975.0,513.2 981.5,513.4 Q988.1,513.6 994.7,513.7 Q1001.3,513.7 1007.9,514.3 Q1014.4,514.8 1021.0,514.1 Q1027.6,513.4 1034.2,514.1 Q1040.8,514.8 1047.3,514.1 Q1053.9,513.5 1060.5,513.6 Q1067.1,513.8 1073.7,514.2 Q1080.2,514.5 1086.8,514.5 Q1093.4,514.5 1100.0,514.2 Q1106.6,513.9 1113.1,513.6 Q1119.7,513.2 1126.3,513.6 Q1132.9,514.0 1139.5,513.9 Q1146.0,513.8 1152.6,514.2 Q1159.2,514.7 1165.8,514.1 Q1172.4,513.5 1178.9,513.6 Q1185.5,513.8 1192.1,514.2 Q1198.7,514.7 1205.3,513.9 Q1211.8,513.2 1218.4,513.5 Q1225.0,513.8 1231.6,514.2 Q1238.2,514.5 1244.7,514.5 Q1251.3,514.5 1257.9,513.8 Q1264.5,513.2 1271.1,513.2 Q1277.6,513.2 1284.2,513.2 Q1290.8,513.3 1297.4,514.0 Q1304.0,514.7 1310.5,514.2 Q1317.1,513.6 1323.7,514.0 Q1330.3,514.4 1336.9,514.5 Q1343.4,514.7 1350.0,514.2 Q1356.6,513.7 1363.2,513.7 Q1369.8,513.6 1376.3,514.2 Q1382.9,514.8 1389.5,514.5 Q1396.1,514.2 1402.7,513.9 Q1409.2,513.6 1415.8,514.0 Q1422.4,514.4 1429.0,514.0 Q1435.6,513.7 1442.1,513.7 Q1448.7,513.6 1455.3,513.4 Q1461.9,513.2 1468.5,513.8 Q1475.0,514.4 1481.6,514.6 Q1488.2,514.7 1494.8,514.5 Q1501.4,514.2 1507.9,514.5 Q1514.5,514.8 1521.1,514.0 Q1527.7,513.2 1534.3,513.4 Q1540.8,513.5 1547.4,513.8 Q1554.0,514.0 1560.6,514.4 Q1567.2,514.8 1573.7,514.8 Q1580.3,514.8 1586.9,514.3 Q1593.5,513.8 1600.1,513.7 Q1606.6,513.6 1613.2,513.7 Q1619.8,513.9 1626.4,513.9 Q1633.0,514.0 1639.5,514.4 Q1646.1,514.7 1652.7,514.1 Q1659.3,513.5 1665.9,514.0 Q1672.4,514.5 1679.0,514.5 Q1685.6,514.4 1692.2,514.5 Q1698.8,514.5 1705.3,514.5 Q1711.9,514.5 1718.5,514.3 Q1725.1,514.2 1731.7,513.9 Q1738.2,513.7 1744.8,513.7 Q1751.4,513.7 1758.0,513.7 Q1764.6,513.8 1771.1,514.1 Q1777.7,514.5 1784.3,513.9 Q1790.9,513.3 1797.5,513.4 Q1804.0,513.5 1810.6,514.0 Q1817.2,514.4 1823.8,514.0 Q1830.4,513.6 1836.9,513.4 Q1843.5,513.3 1850.1,513.2 Q1856.7,513.2 1863.3,513.6 Q1869.8,514.1 1876.4,514.0 L1883.0,514.0 M1883.0,514.0 L1883.1,520.1 Q1883.3,526.1 1882.7,532.2 Q1882.2,538.3 1882.3,544.4 Q1882.3,550.4 1882.3,556.5 Q1882.2,562.6 1882.8,568.7 Q1883.4,574.7 1883.6,580.8 Q1883.7,586.9 1883.7,592.9 Q1883.7,599.0 1883.3,605.1 Q1883.0,611.2 1882.8,617.2 Q1882.6,623.3 1882.9,629.4 Q1883.1,635.5 1883.0,641.5 L1883.0,647.6 M1883.0,647.6 L1876.4,647.8 Q1869.8,648.1 1863.3,647.9 Q1856.7,647.7 1850.1,647.6 Q1843.5,647.4 1836.9,647.3 Q1830.4,647.3 1823.8,647.2 Q1817.2,647.2 1810.6,647.1 Q1804.0,647.0 1797.5,647.2 Q1790.9,647.3 1784.3,647.8 Q1777.7,648.2 1771.1,647.6 Q1764.6,647.0 1758.0,647.5 Q1751.4,648.0 1744.8,647.7 Q1738.2,647.5 1731.7,647.7 Q1725.1,647.8 1718.5,647.5 Q1711.9,647.2 1705.3,647.7 Q1698.8,648.1 1692.2,648.1 Q1685.6,648.0 1679.0,648.0 Q1672.4,648.0 1665.9,648.1 Q1659.3,648.2 1652.7,647.6 Q1646.1,646.9 1639.5,647.2 Q1633.0,647.5 1626.4,647.7 Q1619.8,647.9 1613.2,647.8 Q1606.6,647.8 1600.1,647.3 Q1593.5,646.8 1586.9,647.2 Q1580.3,647.6 1573.7,647.8 Q1567.2,648.1 1560.6,647.6 Q1554.0,647.1 1547.4,647.2 Q1540.8,647.3 1534.3,647.1 Q1527.7,646.8 1521.1,647.5 Q1514.5,648.3 1507.9,648.0 Q1501.4,647.6 1494.8,647.4 Q1488.2,647.1 1481.6,647.0 Q1475.0,647.0 1468.5,647.0 Q1461.9,646.9 1455.3,647.6 Q1448.7,648.4 1442.1,648.2 Q1435.6,648.0 1429.0,648.1 Q1422.4,648.2 1415.8,648.2 Q1409.2,648.1 1402.7,647.5 Q1396.1,646.8 1389.5,647.1 Q1382.9,647.5 1376.3,647.2 Q1369.8,646.9 1363.2,647.3 Q1356.6,647.8 1350.0,647.4 Q1343.4,647.0 1336.9,647.3 Q1330.3,647.7 1323.7,647.8 Q1317.1,648.0 1310.5,647.6 Q1304.0,647.1 1297.4,647.0 Q1290.8,646.8 1284.2,647.6 Q1277.6,648.3 1271.1,647.9 Q1264.5,647.4 1257.9,647.4 Q1251.3,647.4 1244.7,647.7 Q1238.2,648.1 1231.6,648.0 Q1225.0,647.8 1218.4,648.0 Q1211.8,648.2 1205.3,648.2 Q1198.7,648.1 1192.1,648.1 Q1185.5,648.0 1178.9,647.7 Q1172.4,647.4 1165.8,647.4 Q1159.2,647.3 1152.6,647.7 Q1146.0,648.1 1139.5,648.3 Q1132.9,648.4 1126.3,648.2 Q1119.7,647.9 1113.1,647.6 Q1106.6,647.3 1100.0,647.7 Q1093.4,648.1 1086.8,648.0 Q1080.2,647.9 1073.7,648.0 Q1067.1,648.1 1060.5,647.6 Q1053.9,647.1 1047.3,647.3 Q1040.8,647.5 1034.2,647.9 Q1027.6,648.3 1021.0,648.3 Q1014.4,648.3 1007.9,648.0 Q1001.3,647.8 994.7,647.6 Q988.1,647.5 981.5,647.4 Q975.0,647.4 968.4,647.8 Q961.8,648.3 955.2,648.2 Q948.6,648.2 942.1,647.7 Q935.5,647.3 928.9,647.5 Q922.3,647.8 915.7,647.9 Q909.2,648.0 902.6,647.8 L896.0,647.6 M896.0,647.6 L895.8,641.5 Q895.7,635.5 896.2,629.4 Q896.8,623.3 896.2,617.2 Q895.7,611.2 895.9,605.1 Q896.1,599.0 895.9,592.9 Q895.8,586.9 895.8,580.8 Q895.9,574.7 896.2,568.7 Q896.6,562.6 896.7,556.5 Q896.8,550.4 896.3,544.4 Q895.8,538.3 895.6,532.2 Q895.5,526.1 895.7,520.1 L896.0,514.0" fill="none" stroke="#4b4949" stroke-width="6.1" stroke-linecap="round" stroke-linejoin="round"/>
<path d="M896.0,514.0 L904.5,514.2 Q913.0,514.4 921.5,513.9 Q930.0,513.5 938.5,513.3 Q947.1,513.2 955.6,513.9 Q964.1,514.7 972.6,514.3 Q981.1,513.9 989.6,514.2 Q998.1,514.5 1006.6,514.2 Q1015.1,513.8 1023.6,514.2 Q1032.1,514.7 1040.6,514.3 Q1049.2,513.9 1057.7,513.7 Q1066.2,513.4 1074.7,513.3 Q1083.2,513.2 1091.7,513.6 Q1100.2,514.1 1108.7,514.2 Q1117.2,514.2 1125.7,514.5 Q1134.2,514.7 1142.8,514.0 Q1151.3,513.3 1159.8,513.8 Q1168.3,514.2 1176.8,514.0 Q1185.3,513.8 1193.8,513.9 Q1202.3,514.0 1210.8,513.7 Q1219.3,513.4 1227.8,513.5 Q1236.3,513.6 1244.9,513.8 Q1253.4,514.0 1261.9,514.4 Q1270.4,514.7 1278.9,514.0 Q1287.4,513.3 1295.9,513.7 Q1304.4,514.0 1312.9,514.3 Q1321.4,514.5 1329.9,514.7 Q1338.4,514.8 1347.0,514.1 Q1355.5,513.5 1364.0,513.4 Q1372.5,513.4 1381.0,514.1 Q1389.5,514.8 1398.0,514.8 Q1406.5,514.8 1415.0,514.4 Q1423.5,514.0 1432.0,513.6 Q1440.6,513.2 1449.1,514.0 Q1457.6,514.7 1466.1,514.3 Q1474.6,513.8 1483.1,514.2 Q1491.6,514.7 1500.1,514.4 Q1508.6,514.2 1517.1,514.4 Q1525.6,514.6 1534.1,514.0 Q1542.7,513.4 1551.2,514.0 Q1559.7,514.5 1568.2,514.0 Q1576.7,513.5 1585.2,513.7 Q1593.7,513.8 1602.2,514.2 Q1610.7,514.6 1619.2,514.6 Q1627.7,514.6 1636.2,514.0 Q1644.8,513.5 1653.3,513.5 Q1661.8,513.5 1670.3,513.7 Q1678.8,513.8 1687.3,513.9 Q1695.8,514.0 1704.3,513.9 Q1712.8,513.8 1721.3,513.6 Q1729.8,513.4 1738.4,513.5 Q1746.9,513.6 1755.4,514.0 Q1763.9,514.4 1772.4,514.5 Q1780.9,514.7 1789.4,513.9 Q1797.9,513.2 1806.4,513.7 Q1814.9,514.1 1823.4,514.3 Q1831.9,514.4 1840.5,513.8 Q1849.0,513.2 1857.5,513.9 Q1866.0,514.6 1874.5,514.3 L1883.0,514.0 M1883.0,514.0 L1883.3,522.4 Q1883.6,530.7 1883.2,539.0 Q1882.8,547.4 1882.9,555.8 Q1882.9,564.1 1882.8,572.5 Q1882.8,580.8 1883.1,589.1 Q1883.3,597.5 1883.2,605.9 Q1883.1,614.2 1883.0,622.5 Q1882.9,630.9 1882.9,639.2 L1883.0,647.6 M1883.0,647.6 L1874.5,647.7 Q1866.0,647.7 1857.5,647.5 Q1849.0,647.3 1840.5,647.5 Q1831.9,647.7 1823.4,647.7 Q1814.9,647.7 1806.4,648.1 Q1797.9,648.4 1789.4,647.9 Q1780.9,647.4 1772.4,647.5 Q1763.9,647.6 1755.4,647.8 Q1746.9,648.1 1738.4,647.6 Q1729.8,647.2 1721.3,647.1 Q1712.8,647.1 1704.3,647.4 Q1695.8,647.7 1687.3,647.9 Q1678.8,648.1 1670.3,647.9 Q1661.8,647.6 1653.3,648.0 Q1644.8,648.3 1636.2,648.2 Q1627.7,648.2 1619.2,648.0 Q1610.7,647.7 1602.2,648.0 Q1593.7,648.3 1585.2,648.0 Q1576.7,647.7 1568.2,647.6 Q1559.7,647.6 1551.2,648.0 Q1542.7,648.4 1534.1,647.9 Q1525.6,647.4 1517.1,647.8 Q1508.6,648.3 1500.1,647.8 Q1491.6,647.2 1483.1,647.2 Q1474.6,647.1 1466.1,647.4 Q1457.6,647.6 1449.1,648.0 Q1440.6,648.4 1432.0,648.0 Q1423.5,647.6 1415.0,647.7 Q1406.5,647.8 1398.0,647.3 Q1389.5,646.8 1381.0,647.5 Q1372.5,648.2 1364.0,647.6 Q1355.5,647.0 1347.0,646.9 Q1338.4,646.8 1329.9,647.0 Q1321.4,647.2 1312.9,647.1 Q1304.4,647.1 1295.9,647.6 Q1287.4,648.1 1278.9,647.5 Q1270.4,646.8 1261.9,647.2 Q1253.4,647.6 1244.9,647.2 Q1236.3,646.8 1227.8,646.9 Q1219.3,646.9 1210.8,647.5 Q1202.3,648.2 1193.8,647.6 Q1185.3,647.1 1176.8,647.0 Q1168.3,646.9 1159.8,647.6 Q1151.3,648.3 1142.8,648.1 Q1134.2,647.9 1125.7,647.5 Q1117.2,647.2 1108.7,647.7 Q1100.2,648.2 1091.7,647.6 Q1083.2,646.9 1074.7,647.5 Q1066.2,648.0 1057.7,647.5 Q1049.2,647.1 1040.6,647.6 Q1032.1,648.2 1023.6,647.9 Q1015.1,647.6 1006.6,647.2 Q998.1,646.9 989.6,647.5 Q981.1,648.1 972.6,648.0 Q964.1,648.0 955.6,647.8 Q947.1,647.6 938.5,647.7 Q930.0,647.9 921.5,648.1 Q913.0,648.4 904.5,648.0 L896.0,647.6 M896.0,647.6 L895.7,639.2 Q895.5,630.9 895.4,622.5 Q895.4,614.2 896.1,605.9 Q896.7,597.5 896.5,589.1 Q896.3,580.8 896.5,572.5 Q896.7,564.1 896.1,555.8 Q895.4,547.4 896.0,539.0 Q896.5,530.7 896.2,522.4 L896.0,514.0" fill="none" stroke="#4b4949" stroke-width="6.1" stroke-linecap="round" stroke-linejoin="round"/>
<path d="M899.1,517.1 L906.6,517.1 Q899.1,517.1 899.1,524.6 Z" fill="#4b4949"/>
<path d="M1879.8,517.1 L1872.3,517.1 Q1879.8,517.1 1879.8,524.6 Z" fill="#4b4949"/>
<path d="M1879.8,644.5 L1872.3,644.5 Q1879.8,644.5 1879.8,637.0 Z" fill="#4b4949"/>
<path d="M899.1,644.5 L906.6,644.5 Q899.1,644.5 899.1,637.0 Z" fill="#4b4949"/>
<circle cx="896.4" cy="513.1" r="5.4" fill="#4b4949"/>
<circle cx="1882.7" cy="513.4" r="5.4" fill="#4b4949"/>
<circle cx="1883.3" cy="648.4" r="5.4" fill="#4b4949"/>
<circle cx="896.2" cy="648.2" r="5.4" fill="#4b4949"/>

<rect x="1077.0" y="720.0" width="768.0" height="133.0" fill="#82b9dd"/>
<path d="M1077.0,720.0 L1083.5,719.7 Q1090.0,719.3 1096.5,719.7 Q1103.0,720.1 1109.5,720.1 Q1116.1,720.2 1122.6,720.0 Q1129.1,719.8 1135.6,720.2 Q1142.1,720.6 1148.6,720.4 Q1155.1,720.1 1161.6,720.1 Q1168.1,720.1 1174.6,720.4 Q1181.1,720.7 1187.6,720.0 Q1194.2,719.3 1200.7,720.1 Q1207.2,720.8 1213.7,720.5 Q1220.2,720.2 1226.7,720.0 Q1233.2,719.8 1239.7,720.2 Q1246.2,720.5 1252.7,720.1 Q1259.2,719.6 1265.7,720.2 Q1272.3,720.8 1278.8,720.5 Q1285.3,720.1 1291.8,719.9 Q1298.3,719.8 1304.8,720.1 Q1311.3,720.4 1317.8,720.2 Q1324.3,719.9 1330.8,719.7 Q1337.3,719.5 1343.8,719.9 Q1350.4,720.4 1356.9,719.8 Q1363.4,719.2 1369.9,719.9 Q1376.4,720.5 1382.9,720.1 Q1389.4,719.6 1395.9,719.9 Q1402.4,720.2 1408.9,720.5 Q1415.4,720.8 1421.9,720.5 Q1428.5,720.1 1435.0,720.2 Q1441.5,720.3 1448.0,720.0 Q1454.5,719.7 1461.0,719.4 Q1467.5,719.2 1474.0,719.2 Q1480.5,719.2 1487.0,719.3 Q1493.5,719.4 1500.1,719.8 Q1506.6,720.2 1513.1,720.0 Q1519.6,719.9 1526.1,720.0 Q1532.6,720.0 1539.1,720.3 Q1545.6,720.7 1552.1,720.0 Q1558.6,719.4 1565.1,719.5 Q1571.6,719.5 1578.2,719.9 Q1584.7,720.3 1591.2,719.7 Q1597.7,719.2 1604.2,719.2 Q1610.7,719.2 1617.2,719.5 Q1623.7,719.8 1630.2,719.5 Q1636.7,719.3 1643.2,719.5 Q1649.7,719.8 1656.3,719.6 Q1662.8,719.5 1669.3,719.8 Q1675.8,720.1 1682.3,720.1 Q1688.8,720.2 1695.3,719.8 Q1701.8,719.5 1708.3,719.9 Q1714.8,720.2 1721.3,720.1 Q1727.8,720.0 1734.4,719.7 Q1740.9,719.4 1747.4,720.1 Q1753.9,720.7 1760.4,720.2 Q1766.9,719.6 1773.4,719.5 Q1779.9,719.4 1786.4,719.4 Q1792.9,719.3 1799.4,719.8 Q1805.9,720.2 1812.5,720.4 Q1819.0,720.6 1825.5,720.6 Q1832.0,720.5 1838.5,720.2 L1845.0,720.0 M1845.0,720.0 L1845.1,726.0 Q1845.2,732.1 1845.3,738.1 Q1845.4,744.2 1845.6,750.2 Q1845.8,756.3 1845.3,762.3 Q1844.8,768.4 1844.8,774.4 Q1844.9,780.5 1845.1,786.5 Q1845.3,792.5 1845.0,798.6 Q1844.8,804.6 1844.9,810.7 Q1845.1,816.7 1844.7,822.8 Q1844.3,828.8 1844.4,834.9 Q1844.6,840.9 1844.8,847.0 L1845.0,853.0 M1845.0,853.0 L1838.5,853.2 Q1832.0,853.4 1825.5,852.9 Q1819.0,852.3 1812.5,853.0 Q1805.9,853.8 1799.4,853.4 Q1792.9,852.9 1786.4,853.1 Q1779.9,853.2 1773.4,853.3 Q1766.9,853.4 1760.4,853.6 Q1753.9,853.8 1747.4,853.1 Q1740.9,852.5 1734.4,853.2 Q1727.8,853.8 1721.3,853.4 Q1714.8,852.9 1708.3,852.6 Q1701.8,852.3 1695.3,852.9 Q1688.8,853.6 1682.3,853.6 Q1675.8,853.5 1669.3,853.2 Q1662.8,852.8 1656.3,852.9 Q1649.7,853.0 1643.2,852.9 Q1636.7,852.8 1630.2,852.6 Q1623.7,852.5 1617.2,853.0 Q1610.7,853.6 1604.2,853.4 Q1597.7,853.3 1591.2,853.3 Q1584.7,853.3 1578.2,853.6 Q1571.6,853.8 1565.1,853.1 Q1558.6,852.3 1552.1,852.4 Q1545.6,852.5 1539.1,852.6 Q1532.6,852.6 1526.1,853.2 Q1519.6,853.8 1513.1,853.1 Q1506.6,852.4 1500.1,852.5 Q1493.5,852.6 1487.0,852.8 Q1480.5,853.1 1474.0,852.8 Q1467.5,852.6 1461.0,852.8 Q1454.5,853.1 1448.0,853.3 Q1441.5,853.5 1435.0,853.6 Q1428.5,853.7 1421.9,853.6 Q1415.4,853.5 1408.9,853.6 Q1402.4,853.8 1395.9,853.5 Q1389.4,853.3 1382.9,852.9 Q1376.4,852.6 1369.9,852.6 Q1363.4,852.7 1356.9,852.5 Q1350.4,852.4 1343.8,852.5 Q1337.3,852.6 1330.8,853.0 Q1324.3,853.4 1317.8,853.2 Q1311.3,852.9 1304.8,853.0 Q1298.3,853.1 1291.8,852.8 Q1285.3,852.5 1278.8,852.7 Q1272.3,853.0 1265.7,853.2 Q1259.2,853.4 1252.7,853.1 Q1246.2,852.8 1239.7,852.5 Q1233.2,852.2 1226.7,852.8 Q1220.2,853.5 1213.7,852.9 Q1207.2,852.4 1200.7,853.1 Q1194.2,853.8 1187.6,853.6 Q1181.1,853.4 1174.6,853.4 Q1168.1,853.4 1161.6,853.0 Q1155.1,852.6 1148.6,852.4 Q1142.1,852.2 1135.6,852.4 Q1129.1,852.6 1122.6,852.9 Q1116.1,853.3 1109.5,852.8 Q1103.0,852.4 1096.5,852.8 Q1090.0,853.3 1083.5,853.1 L1077.0,853.0 M1077.0,853.0 L1076.8,847.0 Q1076.6,840.9 1077.1,834.9 Q1077.7,828.8 1077.5,822.8 Q1077.2,816.7 1077.3,810.7 Q1077.3,804.6 1077.3,798.6 Q1077.3,792.5 1077.5,786.5 Q1077.8,780.5 1077.4,774.4 Q1076.9,768.4 1077.3,762.3 Q1077.6,756.3 1077.5,750.2 Q1077.3,744.2 1077.5,738.1 Q1077.6,732.1 1077.3,726.0 L1077.0,720.0" fill="none" stroke="#848383" stroke-width="6.1" stroke-linecap="round" stroke-linejoin="round"/>
<path d="M1077.0,720.0 L1085.5,719.9 Q1094.1,719.9 1102.6,720.1 Q1111.1,720.4 1119.7,720.3 Q1128.2,720.1 1136.7,719.9 Q1145.3,719.7 1153.8,719.6 Q1162.3,719.5 1170.9,719.9 Q1179.4,720.2 1187.9,719.7 Q1196.5,719.3 1205.0,720.0 Q1213.5,720.7 1222.1,720.0 Q1230.6,719.4 1239.1,719.3 Q1247.7,719.2 1256.2,719.3 Q1264.7,719.3 1273.3,720.0 Q1281.8,720.7 1290.3,720.2 Q1298.9,719.7 1307.4,719.6 Q1315.9,719.4 1324.5,719.3 Q1333.0,719.2 1341.5,719.2 Q1350.1,719.2 1358.6,719.8 Q1367.1,720.3 1375.7,720.3 Q1384.2,720.2 1392.7,720.3 Q1401.3,720.3 1409.8,720.4 Q1418.3,720.4 1426.9,719.8 Q1435.4,719.3 1443.9,719.7 Q1452.5,720.2 1461.0,720.0 Q1469.5,719.8 1478.1,720.2 Q1486.6,720.5 1495.1,720.5 Q1503.7,720.5 1512.2,720.6 Q1520.7,720.7 1529.3,720.0 Q1537.8,719.3 1546.3,719.9 Q1554.9,720.6 1563.4,720.7 Q1571.9,720.7 1580.5,720.7 Q1589.0,720.8 1597.5,720.0 Q1606.1,719.3 1614.6,719.4 Q1623.1,719.5 1631.7,719.4 Q1640.2,719.3 1648.7,719.3 Q1657.3,719.2 1665.8,719.9 Q1674.3,720.6 1682.9,720.6 Q1691.4,720.5 1699.9,720.4 Q1708.5,720.2 1717.0,720.4 Q1725.5,720.6 1734.1,720.4 Q1742.6,720.2 1751.1,719.9 Q1759.7,719.6 1768.2,719.5 Q1776.7,719.3 1785.3,719.3 Q1793.8,719.3 1802.3,719.9 Q1810.9,720.4 1819.4,720.0 Q1827.9,719.5 1836.5,719.7 L1845.0,720.0 M1845.0,720.0 L1845.2,728.3 Q1845.3,736.6 1845.2,744.9 Q1845.1,753.2 1845.5,761.6 Q1845.8,769.9 1845.6,778.2 Q1845.4,786.5 1845.4,794.8 Q1845.4,803.1 1845.0,811.4 Q1844.6,819.8 1844.9,828.1 Q1845.2,836.4 1845.1,844.7 L1845.0,853.0 M1845.0,853.0 L1836.5,853.2 Q1827.9,853.3 1819.4,852.8 Q1810.9,852.2 1802.3,852.6 Q1793.8,853.0 1785.3,852.7 Q1776.7,852.4 1768.2,852.6 Q1759.7,852.8 1751.1,853.3 Q1742.6,853.8 1734.1,853.5 Q1725.5,853.1 1717.0,853.1 Q1708.5,853.1 1699.9,852.8 Q1691.4,852.5 1682.9,852.9 Q1674.3,853.3 1665.8,853.0 Q1657.3,852.7 1648.7,852.8 Q1640.2,852.9 1631.7,853.2 Q1623.1,853.5 1614.6,852.9 Q1606.1,852.4 1597.5,853.0 Q1589.0,853.7 1580.5,853.1 Q1571.9,852.5 1563.4,853.0 Q1554.9,853.6 1546.3,853.7 Q1537.8,853.8 1529.3,853.7 Q1520.7,853.5 1512.2,853.0 Q1503.7,852.6 1495.1,852.4 Q1486.6,852.2 1478.1,853.0 Q1469.5,853.8 1461.0,853.4 Q1452.5,853.0 1443.9,853.0 Q1435.4,853.0 1426.9,852.8 Q1418.3,852.5 1409.8,853.0 Q1401.3,853.5 1392.7,853.3 Q1384.2,853.0 1375.7,853.1 Q1367.1,853.3 1358.6,852.8 Q1350.1,852.4 1341.5,852.9 Q1333.0,853.4 1324.5,852.8 Q1315.9,852.2 1307.4,852.8 Q1298.9,853.4 1290.3,853.4 Q1281.8,853.5 1273.3,853.1 Q1264.7,852.7 1256.2,852.8 Q1247.7,853.0 1239.1,853.3 Q1230.6,853.7 1222.1,853.2 Q1213.5,852.8 1205.0,853.2 Q1196.5,853.7 1187.9,853.1 Q1179.4,852.5 1170.9,852.6 Q1162.3,852.7 1153.8,852.6 Q1145.3,852.5 1136.7,852.6 Q1128.2,852.8 1119.7,853.0 Q1111.1,853.2 1102.6,853.2 Q1094.1,853.2 1085.5,853.1 L1077.0,853.0 M1077.0,853.0 L1076.9,844.7 Q1076.8,836.4 1077.2,828.1 Q1077.7,819.8 1077.0,811.4 Q1076.3,803.1 1077.0,794.8 Q1077.7,786.5 1076.9,778.2 Q1076.2,769.9 1076.3,761.6 Q1076.5,753.2 1076.5,744.9 Q1076.6,736.6 1076.8,728.3 L1077.0,720.0" fill="none" stroke="#848383" stroke-width="6.1" stroke-linecap="round" stroke-linejoin="round"/>
<path d="M1080.2,723.1 L1087.7,723.1 Q1080.2,723.1 1080.2,730.6 Z" fill="#848383"/>
<path d="M1841.8,723.1 L1834.3,723.1 Q1841.8,723.1 1841.8,730.6 Z" fill="#848383"/>
<path d="M1841.8,849.9 L1834.3,849.9 Q1841.8,849.9 1841.8,842.4 Z" fill="#848383"/>
<path d="M1080.2,849.9 L1087.7,849.9 Q1080.2,849.9 1080.2,842.4 Z" fill="#848383"/>
<circle cx="1077.4" cy="719.1" r="5.4" fill="#848383"/>
<circle cx="1844.7" cy="719.4" r="5.4" fill="#848383"/>
<circle cx="1845.3" cy="853.8" r="5.4" fill="#848383"/>
<circle cx="1077.2" cy="853.6" r="5.4" fill="#848383"/>

<defs><g id="cjk"><path d="M963.9,371.0 L998.7,374.3 L993.3,387.3" stroke-width="5.2"/>
<path d="M983.6,387.8 L986.6,413.8 L980.3,414.6" stroke-width="5.2"/>
<path d="M967.3,394.5 L976.1,396.6" stroke-width="4.7"/>
<path d="M968.5,408.3 L976.1,406.2" stroke-width="4.7"/>
<path d="M1003.8,392.4 L996.2,395.7" stroke-width="4.7"/>
<path d="M994.5,405.0 L1001.7,407.9" stroke-width="4.7"/>
<path d="M961.0,402.0 L961.0,422.1 L997.9,421.7" stroke-width="5.2"/>
<path d="M1008.8,405.4 L1008.0,421.7" stroke-width="5.2"/>
<path d="M1030.1,386.3 L1063.7,387.2" stroke-width="4.6"/>
<path d="M1046.9,370.8 L1048.2,401.4" stroke-width="4.6"/>
<path d="M1033.1,375.8 L1041.0,380.0" stroke-width="4.6"/>
<path d="M1062.3,373.0 L1056.6,381.3" stroke-width="4.6"/>
<path d="M1046.1,389.7 L1033.9,398.1" stroke-width="4.6"/>
<path d="M1049.4,390.1 L1062.0,396.8" stroke-width="4.6"/>
<path d="M1033.4,409.3 L1061.2,410.6" stroke-width="4.6"/>
<path d="M1049.7,404.2 L1037.6,417.8 L1059.4,424.8" stroke-width="4.6"/>
<path d="M1056.6,416.8 L1046.0,429.4" stroke-width="4.6"/>
<path d="M1077.1,382.6 L1066.2,400.6" stroke-width="4.6"/>
<path d="M1072.1,393.9 L1090.5,394.3" stroke-width="4.6"/>
<path d="M1083.0,404.8 L1068.7,420.7" stroke-width="4.6"/>
<path d="M1067.9,409.8 L1088.9,420.7" stroke-width="4.6"/>
<path d="M1146.8,378.1 L1133.8,404.5" stroke-width="5.3"/>
<path d="M1169.9,372.2 L1169.1,422.1" stroke-width="5.3"/>
<path d="M1151.5,389.4 L1190.1,389.4" stroke-width="5.3"/>
<path d="M1155.2,405.8 L1182.9,405.8" stroke-width="5.3"/>
<path d="M1154.4,422.1 L1184.6,422.1" stroke-width="5.3"/>
<path d="M1244.1,367.6 L1212.2,393.2" stroke-width="5.0"/>
<path d="M1242.0,373.0 L1267.1,390.7" stroke-width="5.0"/>
<path d="M1230.2,389.8 L1247.9,391.1" stroke-width="5.0"/>
<path d="M1220.2,401.6 L1219.5,414.6 L1233.6,414.8 L1233.3,402.9 L1224.0,403.5" stroke-width="5.0"/>
<path d="M1242.8,402.4 L1262.1,403.2 L1261.3,415.4 L1256.2,415.4" stroke-width="5.0"/>
<path d="M1246.6,403.2 L1248.7,425.5" stroke-width="5.0"/>
<path d="M1290.1,383.1 L1291.0,418.3" stroke-width="5.0"/>
<path d="M1296.8,374.3 L1339.6,373.9 L1340.1,422.1 L1332.1,422.5" stroke-width="5.0"/>
<path d="M1314.5,383.1 L1314.5,397.0" stroke-width="5.0"/>
<path d="M1303.1,387.3 L1322.9,387.3" stroke-width="5.0"/>
<path d="M1299.4,397.4 L1327.9,397.4" stroke-width="5.0"/>
<path d="M1306.9,405.3 L1322.9,405.3 L1322.9,415.8 L1306.9,415.8 L1306.9,402.7" stroke-width="5.0"/>
<path d="M1369.4,371.8 L1368.1,408.7" stroke-width="5.0"/>
<path d="M1385.7,373.0 L1386.1,408.7" stroke-width="5.0"/>
<path d="M1361.8,380.6 L1392.9,380.2" stroke-width="5.0"/>
<path d="M1369.4,390.2 L1385.7,390.2" stroke-width="5.0"/>
<path d="M1369.4,400.3 L1385.7,400.3" stroke-width="5.0"/>
<path d="M1359.7,408.7 L1392.4,408.3" stroke-width="5.0"/>
<path d="M1371.5,416.7 L1366.8,425.9" stroke-width="5.0"/>
<path d="M1381.1,419.2 L1387.8,423.8" stroke-width="5.0"/>
<path d="M1400.0,381.8 L1420.5,381.8 L1419.7,416.7 L1412.1,415.8" stroke-width="5.0"/>
<path d="M1400.2,379.2 L1397.5,416.2" stroke-width="5.0"/>
<path d="M1402.1,394.4 L1409.6,394.0" stroke-width="5.0"/>
<path d="M1402.1,404.5 L1408.8,404.1" stroke-width="5.0"/></g></defs>
<g fill="none" stroke="#fff" stroke-width="5.6" stroke-linecap="butt" stroke-linejoin="miter" stroke-miterlimit="2"><use href="#cjk"/><use href="#cjk" transform="translate(262.7,188.3)"/><use href="#cjk" transform="translate(348.7,396.8)"/></g>
<g fill="none" stroke="#fff" stroke-width="5.6" stroke-linecap="butt" stroke-linejoin="round">
<path d="M802.8,389.4 L803.0,420.4"/>
<path d="M808,396.2 C810.5,392.6 817,390.6 820.5,394 C823,396.5 824.4,399 825.4,400.7 C827.6,397.3 832.6,393.6 837.2,395.3 C843.6,397.8 845.2,407 842.4,420.4"/>
<path d="M896.5,389.8 L896.5,420.8"/>
<path d="M912.9,389.8 L912.9,420.8"/>
<path d="M919.6,395.4 C923.6,392 931,390.7 935.6,394.2 C940.4,398.4 940.6,409 938.2,420.6"/>
<path d="M854.9,405.1 a13.3,13.3 0 1 0 26.6,0 a13.3,13.3 0 1 0 -26.6,0"/>
<path d="M882.7,389.4 L882.7,420.6"/>
</g>
<g fill="none" stroke="#fff" stroke-width="5.6" stroke-linecap="butt" stroke-linejoin="round">
<path d="M1093.3,593.4 a13.3,13.3 0 1 0 26.6,0 a13.3,13.3 0 1 0 -26.6,0"/>
<path d="M1121.1,577.7 L1121.1,608.9"/>
<path d="M1131.5,593.4 a13.3,13.3 0 1 0 26.6,0 a13.3,13.3 0 1 0 -26.6,0"/>
<path d="M1159.3,557.9 L1159.3,608.9"/>
<path d="M1171.7,593.4 a13.3,13.3 0 1 0 26.6,0 a13.3,13.3 0 1 0 -26.6,0"/>
<path d="M1199.5,557.9 L1199.5,608.9"/>
</g>
<g fill="none" stroke="#fff" stroke-width="5.3" stroke-linecap="butt" stroke-linejoin="round">
<path d="M1151.1,801.8 a13.3,13.8 0 1 0 26.7,0 a13.3,13.8 0 1 0 -26.7,0"/>
<path d="M1180.1,787.6 L1180.1,821 C1180.1,828.5 1176,830.6 1167.6,830.2"/>
<path d="M1192.2,804.4 L1217.8,800.9 C1217.4,792.4 1211.8,787.7 1203.6,787.7 C1195.4,787.6 1189.4,794 1189.4,802 C1189.4,810 1195.4,815.8 1203.6,815.8 C1208,815.8 1211.4,815 1214.2,813.4"/>
<path d="M1236.4,768.8 L1234.3,808.6 C1234.2,814.4 1238.2,816 1245.2,814.2"/>
<path d="M1224.7,789.0 L1249.0,789.0"/>
<path d="M1253.2,769.9 L1289.7,770.1 L1263.7,815.0 L1290.5,815.0"/>
</g>
<rect x="-4.6" y="-2.9" width="9.2" height="5.8" rx="0.8" transform="translate(896.9,373.4) rotate(22)" fill="#fff"/>
</svg></body></html>
